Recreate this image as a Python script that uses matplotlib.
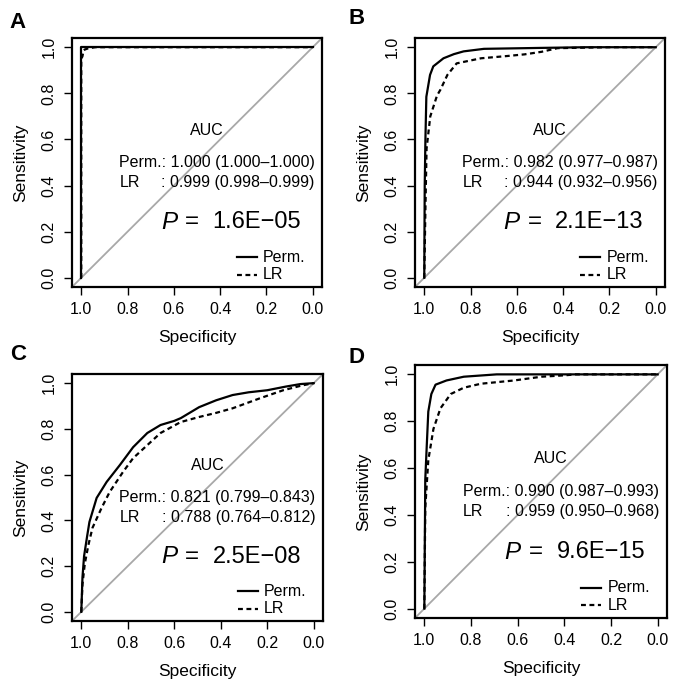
import matplotlib
matplotlib.use("Agg")
import matplotlib.pyplot as plt

plt.rcParams['font.family'] = ['Liberation Sans', 'DejaVu Sans']

# ---- data (specificity, sensitivity) ----
A_perm_spec = [1.0, 1.0, 0.0]
A_perm_sens = [0.0, 1.0, 1.0]
A_lr_spec = [1.0, 1.0, 0.995, 0.99, 0.985, 0.97, 0.94, 0.0]
A_lr_sens = [0.0, 0.95, 0.96, 0.985, 0.99, 0.995, 1.0, 1.0]

B_perm_spec = [1.0, 0.998, 0.995, 0.991, 0.975, 0.961, 0.917, 0.872, 0.83, 0.742, 0.5, 0.3, 0.0]
B_perm_sens = [0.0, 0.4, 0.6, 0.785, 0.88, 0.917, 0.952, 0.97, 0.982, 0.993, 0.997, 1.0, 1.0]
B_lr_spec = [1.0, 0.995, 0.99, 0.974, 0.945, 0.93, 0.90, 0.86, 0.755, 0.64, 0.567, 0.494, 0.424, 0.2, 0.0]
B_lr_sens = [0.0, 0.3, 0.56, 0.70, 0.79, 0.816, 0.88, 0.93, 0.952, 0.962, 0.969, 0.98, 0.996, 1.0, 1.0]

C_perm_spec = [1.0, 0.995, 0.988, 0.975, 0.965, 0.934, 0.891, 0.834, 0.777, 0.716, 0.659, 0.60, 0.572,
               0.493, 0.42, 0.349, 0.28, 0.2, 0.12, 0.057, 0.0]
C_perm_sens = [0.0, 0.15, 0.244, 0.33, 0.393, 0.498, 0.568, 0.642, 0.72, 0.782, 0.817, 0.835, 0.847,
               0.895, 0.925, 0.948, 0.96, 0.969, 0.985, 0.996, 1.0]
C_lr_spec = [1.0, 0.995, 0.985, 0.97, 0.952, 0.913, 0.878, 0.821, 0.777, 0.716, 0.659, 0.572, 0.493,
             0.42, 0.349, 0.231, 0.131, 0.05, 0.0]
C_lr_sens = [0.0, 0.12, 0.21, 0.29, 0.367, 0.454, 0.524, 0.611, 0.672, 0.729, 0.782, 0.83, 0.852,
             0.87, 0.89, 0.934, 0.969, 0.99, 1.0]

D_perm_spec = [1.0, 0.996, 0.991, 0.983, 0.970, 0.952, 0.905, 0.831, 0.69, 0.0]
D_perm_sens = [0.0, 0.55, 0.665, 0.841, 0.916, 0.956, 0.974, 0.99, 1.0, 1.0]
D_lr_spec = [1.0, 0.996, 0.983, 0.961, 0.931, 0.887, 0.831, 0.758, 0.615, 0.498, 0.397, 0.353, 0.0]
D_lr_sens = [0.0, 0.43, 0.634, 0.767, 0.855, 0.916, 0.943, 0.96, 0.974, 0.99, 0.996, 1.0, 1.0]

panel_letters = ["A", "B", "C", "D"]
auc_perm = ["1.000 (1.000\u20131.000)", "0.982 (0.977\u20130.987)",
            "0.821 (0.799\u20130.843)", "0.990 (0.987\u20130.993)"]
auc_lr = ["0.999 (0.998\u20130.999)", "0.944 (0.932\u20130.956)",
          "0.788 (0.764\u20130.812)", "0.959 (0.950\u20130.968)"]
p_values = ["1.6E\u221205", "2.1E\u221213", "2.5E\u221208", "9.6E\u221215"]

curves = [(A_perm_spec, A_perm_sens, A_lr_spec, A_lr_sens),
          (B_perm_spec, B_perm_sens, B_lr_spec, B_lr_sens),
          (C_perm_spec, C_perm_sens, C_lr_spec, C_lr_sens),
          (D_perm_spec, D_perm_sens, D_lr_spec, D_lr_sens)]

W, H = 685, 683
# axes boxes in pixels: left, top, right, bottom
boxes = [(72, 38, 322, 287), (415, 38, 665, 287), (72, 374, 323, 621), (415, 365, 667, 618)]
letter_px = [(18, 22), (357, 19), (18, 355), (357, 357)]

fig = plt.figure(figsize=(W / 100, H / 100), dpi=100)

DASH = (0, (2.2, 1.6))
ticks = [0.0, 0.2, 0.4, 0.6, 0.8, 1.0]
for i in range(4):
    l, t, r, b = boxes[i]
    ax = fig.add_axes([l / W, 1 - b / H, (r - l) / W, (b - t) / H])
    ps, pse, ls, lse = curves[i]
    ax.axline((1.0, 0.0), (0.0, 1.0), color="#a8a8a8", lw=1.3, zorder=1)
    ax.plot(ps, pse, color="black", lw=1.6, zorder=3, solid_joinstyle="round")
    ax.plot(ls, lse, color="black", lw=1.6, ls=DASH, zorder=2)
    ax.set_xlim(1.04, -0.04)
    ax.set_ylim(-0.04, 1.04)
    ax.set_xticks(ticks)
    ax.set_yticks(ticks)
    ax.set_xticklabels([f"{v:.1f}" for v in ticks], fontsize=11.5)
    ax.set_yticklabels([f"{v:.1f}" for v in ticks], fontsize=11.5, rotation=90, va="center")
    ax.tick_params(direction="out", length=6, width=1.0, pad=5)
    for s in ax.spines.values():
        s.set_linewidth(1.6)
    ax.set_xlabel("Specificity", fontsize=12.5, labelpad=9)
    ax.set_ylabel("Sensitivity", fontsize=12.5, labelpad=10)

    ax.text(0.54, 0.63, "AUC", transform=ax.transAxes, ha="center", va="center", fontsize=11.5)
    ax.text(0.97, 0.50, "Perm.: " + auc_perm[i], transform=ax.transAxes, ha="right", va="center",
            fontsize=11.5)
    ax.text(0.19, 0.42, "LR", transform=ax.transAxes, ha="left", va="center", fontsize=11.5)
    ax.text(0.97, 0.42, ": " + auc_lr[i], transform=ax.transAxes, ha="right", va="center", fontsize=11.5)
    ax.text(0.355, 0.26, "P", transform=ax.transAxes, ha="left", va="center", fontsize=17.5, style="italic")
    ax.text(0.45, 0.26, "=", transform=ax.transAxes, ha="left", va="center", fontsize=17.5)
    ax.text(0.915, 0.26, p_values[i], transform=ax.transAxes, ha="right", va="center", fontsize=17)

    ax.plot([0.66, 0.74], [0.12, 0.12], transform=ax.transAxes, color="black", lw=1.6)
    ax.plot([0.66, 0.74], [0.05, 0.05], transform=ax.transAxes, color="black", lw=1.6, ls=DASH)
    ax.text(0.765, 0.12, "Perm.", transform=ax.transAxes, ha="left", va="center", fontsize=11.5)
    ax.text(0.765, 0.05, "LR", transform=ax.transAxes, ha="left", va="center", fontsize=11.5)

    lx, ly = letter_px[i]
    fig.text(lx / W, 1 - ly / H, panel_letters[i], fontsize=16,
             fontweight="bold", ha="center", va="center")

fig.savefig("out.png", dpi=100)
